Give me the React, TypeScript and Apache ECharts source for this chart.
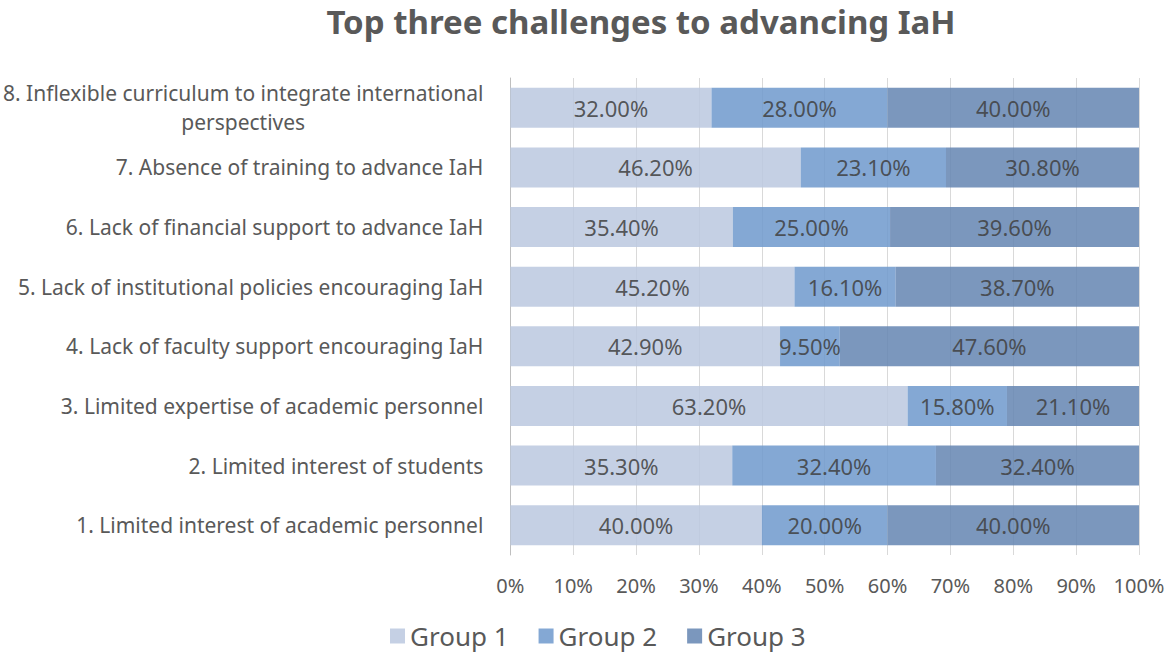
import React, { useEffect, useRef } from "react";
import * as echarts from "echarts";

const categories = [
  "1. Limited interest of academic personnel",
  "2. Limited interest of students",
  "3. Limited expertise of academic personnel",
  "4. Lack of faculty support encouraging IaH",
  "5. Lack of institutional policies encouraging IaH",
  "6. Lack of financial support to advance IaH",
  "7. Absence of training to advance IaH",
  "8. Inflexible curriculum to integrate international\nperspectives",
];
const group1 = [40.0, 35.3, 63.2, 42.9, 45.2, 35.4, 46.2, 32.0];
const group2 = [20.0, 32.4, 15.8, 9.5, 16.1, 25.0, 23.1, 28.0];
const group3 = [40.0, 32.4, 21.1, 47.6, 38.7, 39.6, 30.8, 40.0];
const seriesNames = ["Group 1", "Group 2", "Group 3"];
const colors = ["#bbc8df", "#6e99cc", "#6485b1"];
const xTicks = [0, 10, 20, 30, 40, 50, 60, 70, 80, 90, 100];

const FONT = "'Noto Sans', sans-serif";

export default function App() {
  const ref = useRef<HTMLDivElement>(null);
  useEffect(() => {
    if (!ref.current) return;
    const chart = echarts.init(ref.current, null, { renderer: "svg" });
    const data = [group1, group2, group3];
    chart.setOption({
      animation: false,
      title: {
        text: "Top three challenges to advancing IaH",
        left: 636,
        top: 0,
        textAlign: "center",
        textStyle: { fontFamily: FONT, fontSize: 33, fontWeight: "bold", color: "#595959" },
      },
      legend: {
        data: seriesNames,
        left: 385,
        top: 618,
        itemWidth: 15,
        itemHeight: 15,
        itemGap: 30,
        icon: "rect",
        textStyle: { fontFamily: FONT, fontSize: 26, color: "#595959" },
      },
      grid: { left: 510, right: 31, top: 78, bottom: 106, containLabel: false },
      xAxis: {
        type: "value",
        min: 0,
        max: 100,
        interval: 10,
        axisLine: { show: false },
        axisTick: { show: false },
        splitLine: { show: true, lineStyle: { color: "#d9d9d9", width: 1 } },
        axisLabel: {
          margin: 20,
          fontFamily: FONT,
          fontSize: 20,
          color: "#595959",
          formatter: (v: number) => (xTicks.includes(v) ? v + "%" : ""),
        },
      },
      yAxis: {
        type: "category",
        data: categories,
        axisLine: { show: true, lineStyle: { color: "#bfbfbf" } },
        axisTick: { show: false },
        axisLabel: {
          margin: 27,
          fontFamily: FONT,
          fontSize: 21,
          color: "#595959",
          formatter: (v: string) =>
            v
              .split("\n")
              .map((l) => "{c|" + l + "}")
              .join("\n"),
          rich: {
            c: { align: "center", fontFamily: FONT, fontSize: 21, color: "#595959", lineHeight: 29 },
          },
        },
      },
      series: data.map((d, i) => ({
        name: seriesNames[i],
        type: "bar",
        stack: "total",
        data: d,
        barCategoryGap: "33%",
        itemStyle: { color: colors[i], opacity: 0.85 },
        label: {
          show: true,
          position: "inside",
          fontFamily: FONT,
          fontSize: 22,
          color: "#404040",
          formatter: (p: any) => p.value.toFixed(2) + "%",
        },
      })),
    });
    return () => chart.dispose();
  }, []);
  return (
    <div
      ref={ref}
      style={{ position: "absolute", left: 0, top: 0, width: 1170, height: 661 }}
    />
  );
}
